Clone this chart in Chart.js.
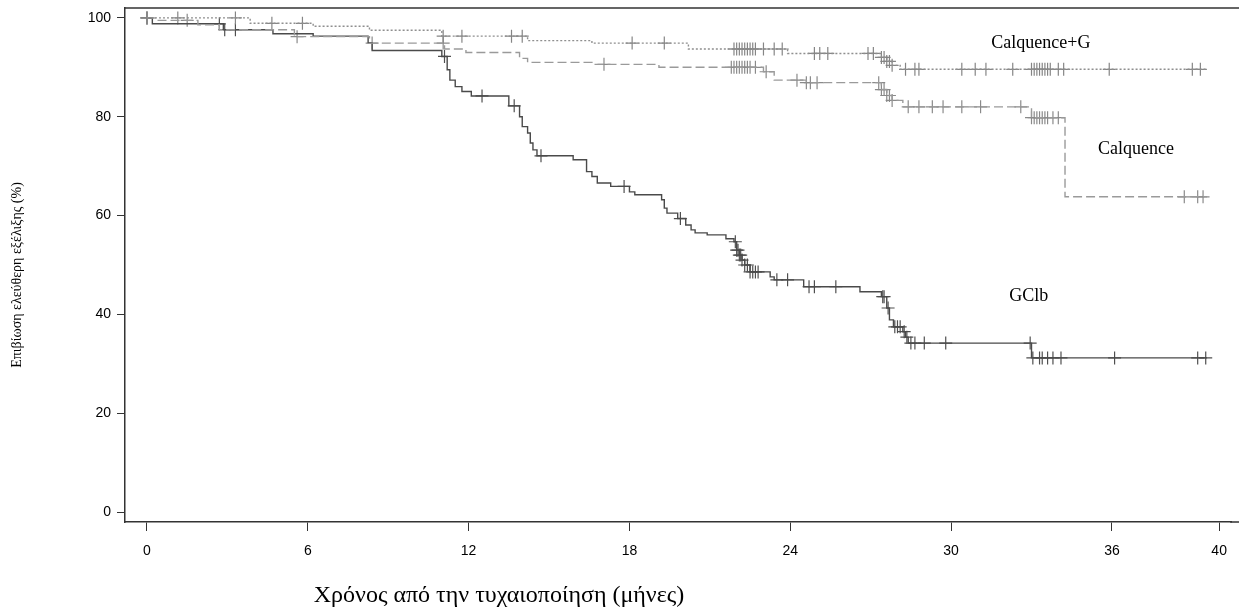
<!DOCTYPE html>
<html>
<head>
<meta charset="utf-8">
<script src="https://cdn.jsdelivr.net/npm/chart.js@4/dist/chart.umd.min.js"></script>
<style>
  html, body { margin: 0; padding: 0; background: #fff; }
  #wrap { width: 1239px; height: 611px; }
</style>
</head>
<body>
<div id="wrap"><canvas id="km" width="1239" height="611"></canvas></div>
<script>
// Kaplan-Meier steps: time of drop (months) and survival after the drop (%)
const calqGTimes = [0, 3.85, 6.2, 8.3, 11.0, 14.2, 16.6, 20.2, 23.9, 27.4, 27.6, 27.8, 28.1, 39.55];
const calqGSurv  = [100, 98.9, 98.3, 97.5, 96.3, 95.4, 94.9, 93.7, 92.8, 92.0, 91.2, 90.4, 89.6, 89.6];
const calqGCensor = [0, 1.15, 3.3, 4.66, 5.8, 11.05, 11.75, 13.6, 14.0, 18.1, 19.3, 21.9, 22.0, 22.1, 22.2,
  22.3, 22.4, 22.5, 22.6, 22.7, 23.0, 23.4, 23.7, 24.9, 25.1, 25.4, 26.9, 27.1, 27.4, 27.5, 27.6, 27.7,
  27.8, 28.3, 28.65, 28.8, 30.4, 30.9, 31.3, 32.3, 33.0, 33.1, 33.2, 33.3, 33.4, 33.5, 33.6, 33.7, 34.0,
  34.2, 35.9, 39.0, 39.3];

const calqTimes = [0, 0.3, 1.9, 2.7, 5.5, 8.3, 11.1, 11.9, 13.9, 14.2, 16.6, 19.1, 23.0, 23.4, 24.6,
  27.4, 27.6, 27.8, 28.2, 33.0, 34.25, 39.55];
const calqSurv  = [100, 99.5, 98.6, 97.6, 96.2, 94.9, 93.7, 93.0, 91.8, 91.0, 90.6, 90.0, 89.1, 87.4, 86.9,
  85.5, 84.3, 83.3, 82.0, 79.8, 63.8, 63.8];
const calqCensor = [0, 1.5, 5.6, 8.4, 11.05, 17.05, 21.8, 21.9, 22.0, 22.1, 22.2, 22.3, 22.4, 22.5, 22.7,
  23.1, 24.25, 24.6, 24.75, 25.0, 27.3, 27.4, 27.5, 27.6, 27.7, 27.8, 28.4, 28.8, 29.3, 29.7, 30.4, 31.1,
  32.6, 33.0, 33.1, 33.2, 33.3, 33.4, 33.5, 33.6, 33.8, 34.0, 38.7, 39.2, 39.4];

const gclbTimes = [0, 0.2, 2.85, 4.7, 6.2, 8.25, 8.4, 11.0, 11.2, 11.3, 11.5, 11.75, 12.1, 13.5, 13.9, 14.0,
  14.2, 14.3, 14.4, 14.55, 15.9, 16.4, 16.6, 16.8, 17.3, 18.0, 18.2, 19.2, 19.3, 19.4, 19.8, 20.1, 20.3,
  20.45, 20.9, 21.6, 21.9, 22.0, 22.1, 22.2, 22.3, 22.5, 23.25, 23.4, 24.5, 26.6, 27.4, 27.6, 27.7, 27.85,
  28.2, 28.3, 28.4, 33.0, 39.55];
const gclbSurv  = [100, 98.8, 97.6, 96.8, 96.3, 95.0, 93.4, 92.2, 89.5, 87.4, 86.1, 85.1, 84.2, 82.2, 80.0, 78.0,
  76.7, 74.7, 73.3, 72.1, 71.3, 68.9, 67.9, 66.6, 65.9, 64.8, 64.2, 63.2, 61.5, 60.5, 59.4, 58.1, 57.1,
  56.5, 56.1, 55.3, 54.7, 53.0, 52.0, 51.0, 50.0, 48.6, 47.6, 47.0, 45.6, 44.6, 43.6, 41.3, 38.9, 37.5,
  36.5, 35.4, 34.2, 31.2, 31.2];
const gclbCensor = [0, 2.7, 2.9, 3.3, 11.1, 12.5, 13.7, 14.7, 17.8, 19.9, 21.95, 22.0, 22.05, 22.1, 22.15,
  22.2, 22.3, 22.4, 22.5, 22.6, 22.7, 22.8, 23.5, 23.9, 24.7, 24.9, 25.7, 27.45, 27.5, 27.65, 27.9, 28.0,
  28.1, 28.25, 28.35, 28.5, 28.65, 29.0, 29.8, 32.95, 33.05, 33.3, 33.4, 33.6, 33.8, 34.1, 36.1, 39.2, 39.5];

const xTicks = [0, 6, 12, 18, 24, 30, 36, 40];
const yTicks = [0, 20, 40, 60, 80, 100];

const curveLabels = ['Calquence+G', 'Calquence', 'GClb'];

function steps(times, surv) {
  return times.map((t, i) => ({ x: t, y: surv[i] }));
}
function marks(censor, times, surv) {
  return censor.map(t => {
    let v = surv[0];
    for (let i = 0; i < times.length; i++) if (times[i] <= t) v = surv[i];
    return { x: t, y: v };
  });
}

const curve = (label, data, color, dash) => ({
  label, data, type: 'line', stepped: 'before', borderColor: color, borderWidth: 1.4,
  borderDash: dash, pointRadius: 0, fill: false
});
const cross = (label, data, color) => ({
  label, data, type: 'scatter', showLine: false, pointStyle: 'cross', pointRadius: 6.5,
  borderColor: color, pointBorderWidth: 1.2, pointBorderColor: color
});

// top frame line and the axis line both run to the right edge of the picture
const framePlugin = {
  id: 'frame',
  afterDraw(chart) {
    const { ctx, chartArea: a, scales } = chart;
    ctx.save();
    ctx.strokeStyle = '#333';
    ctx.lineWidth = 1.5;
    ctx.beginPath();
    ctx.moveTo(a.left, a.top);
    ctx.lineTo(chart.width, a.top);
    ctx.moveTo(a.right - 1, a.bottom);
    ctx.lineTo(chart.width, a.bottom);
    ctx.stroke();

    ctx.fillStyle = '#000';
    ctx.textAlign = 'center';
    ctx.textBaseline = 'middle';
    ctx.font = '18px "Liberation Serif", "Times New Roman", serif';
    ctx.fillText(curveLabels[0], scales.x.getPixelForValue(33.35), scales.y.getPixelForValue(94.9));
    ctx.fillText(curveLabels[1], scales.x.getPixelForValue(36.9), scales.y.getPixelForValue(73.5));
    ctx.fillText(curveLabels[2], scales.x.getPixelForValue(32.9), scales.y.getPixelForValue(43.7));

    ctx.font = '24px "Liberation Serif", "Times New Roman", serif';
    ctx.fillText('Χρόνος από την τυχαιοποίηση (μήνες)', 499, 596);

    ctx.translate(17, 275);
    ctx.rotate(-Math.PI / 2);
    ctx.font = '14px "Liberation Serif", "Times New Roman", serif';
    ctx.fillText('Επιβίωση ελεύθερη εξέλιξης (%)', 0, 0);
    ctx.restore();
  }
};

new Chart(document.getElementById('km'), {
  type: 'line',
  data: {
    datasets: [
      curve(curveLabels[0], steps(calqGTimes, calqGSurv), '#8f8f8f', [2, 2]),
      curve(curveLabels[1], steps(calqTimes, calqSurv), '#9a9a9a', [9, 4]),
      curve(curveLabels[2], steps(gclbTimes, gclbSurv), '#4a4a4a', []),
      cross(curveLabels[0] + ' censored', marks(calqGCensor, calqGTimes, calqGSurv), '#858585'),
      cross(curveLabels[1] + ' censored', marks(calqCensor, calqTimes, calqSurv), '#8a8a8a'),
      cross(curveLabels[2] + ' censored', marks(gclbCensor, gclbTimes, gclbSurv), '#4f4f4f')
    ]
  },
  options: {
    responsive: false,
    animation: false,
    layout: { padding: { top: 8, left: 0, right: 0, bottom: 0 } },
    plugins: { legend: { display: false }, tooltip: { enabled: false } },
    scales: {
      x: {
        type: 'linear', min: -0.82, max: 40.45,
        afterBuildTicks: s => { s.ticks = xTicks.map(v => ({ value: v })); },
        afterFit: s => { s.height = 89; },
        grid: { drawOnChartArea: false, tickLength: 9, color: '#333', tickColor: '#333' },
        border: { color: '#333', width: 1.5 },
        ticks: { color: '#000', padding: 12, maxRotation: 0,
          font: { family: '"Liberation Sans", Arial, sans-serif', size: 14 } }
      },
      y: {
        type: 'linear', min: -2, max: 102,
        afterBuildTicks: s => { s.ticks = yTicks.map(v => ({ value: v })); },
        afterFit: s => { s.width = 125; s.paddingTop = 0; s.paddingBottom = 0; },
        grid: { drawOnChartArea: false, tickLength: 8, color: '#333', tickColor: '#333' },
        border: { color: '#333', width: 1.5 },
        ticks: { color: '#000', padding: 6,
          font: { family: '"Liberation Sans", Arial, sans-serif', size: 14 } }
      }
    }
  },
  plugins: [framePlugin]
});
</script>
</body>
</html>
